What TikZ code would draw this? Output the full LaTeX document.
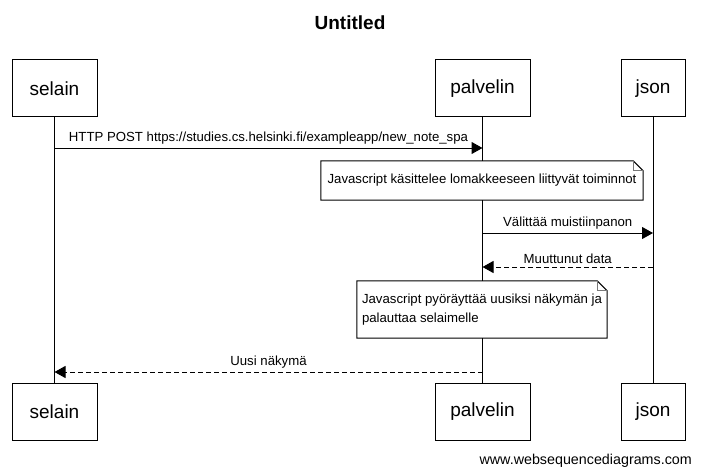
\documentclass[tikz,border=0pt]{standalone}
\usepackage{fontspec}
\setmainfont{Liberation Sans}
\usetikzlibrary{calc,arrows.meta}
\definecolor{ink}{RGB}{0,0,0}
\definecolor{fold}{RGB}{120,120,120}
\tikzset{
  sqtitle/.style={font=\fontsize{19}{22}\selectfont\bfseries},
  sqactor/.style={draw=ink,line width=1pt,minimum height=57,inner sep=0pt,font=\fontsize{19}{22}\selectfont},
  sqlife/.style={ink,line width=1pt},
  sqmsg/.style={ink,line width=1pt,-{Triangle[length=11pt,width=12pt]}},
  sqreply/.style={sqmsg,dash pattern=on 5pt off 3pt},
  sqlabel/.style={font=\fontsize{13.2}{15}\selectfont,above=2pt,inner sep=1pt},
  sqnote/.style={fill=white,inner sep=0pt,font=\fontsize{13.2}{19}\selectfont,align=left},
  sqfold/.style={ink,line width=1pt},
  sqfoot/.style={font=\fontsize{14.3}{16}\selectfont,inner sep=0pt},
}
\begin{document}
\begin{tikzpicture}[x=1pt,y=-1pt]
  \useasboundingbox (0,0) rectangle (701,476);
  \node[sqtitle] (title) at (350,23) {Untitled};
  \node[sqactor,minimum width=85] (selT) at (54.5,88.5) {selain};
  \node[sqactor,minimum width=95] (palT) at (482.5,88.5) {palvelin};
  \node[sqactor,minimum width=64] (jsT) at (653,88.5) {json};
  \node[sqactor,minimum width=85] (selB) at (54.5,411.5) {selain};
  \node[sqactor,minimum width=95] (palB) at (482.5,411.5) {palvelin};
  \node[sqactor,minimum width=64] (jsB) at (653,411.5) {json};
  \draw[sqlife] (selT) -- (selB);
  \draw[sqlife] (palT) -- (palB);
  \draw[sqlife] (jsT) -- (jsB);
  \coordinate (m1a) at (selT.south |- 0,148);
  \coordinate (m1b) at (palT.south |- 0,148);
  \draw[sqmsg] (m1a) -- node[sqlabel] (l1) {HTTP POST https://studies.cs.helsinki.fi/exampleapp/new\_note\_spa} (m1b);
  \node[sqnote,minimum width=322,minimum height=39] (n1) at (482,180.5) {Javascript käsittelee lomakkeeseen liittyvät toiminnot};
  \draw[sqfold] (n1.north west) -- ($(n1.north east)+(-10,0)$) -- ($(n1.north east)+(0,10)$) -- (n1.south east) -- (n1.south west) -- cycle;
  \draw[fold,line width=0.8pt] ($(n1.north east)+(-10,0)$) -- ($(n1.north east)+(-10,10)$) -- ($(n1.north east)+(0,10)$);
  \coordinate (m2a) at (palT.south |- 0,233);
  \coordinate (m2b) at (jsT.south |- 0,233);
  \draw[sqmsg] (m2a) -- node[sqlabel] (l2) {Välittää muistiinpanon} (m2b);
  \coordinate (m3a) at (jsT.south |- 0,267);
  \coordinate (m3b) at (palT.south |- 0,267);
  \draw[sqreply] (m3a) -- node[sqlabel] (l3) {Muuttunut data} (m3b);
  \node[sqnote,minimum width=250,minimum height=57] (n2) at (482,309.5) {Javascript pyöräyttää uusiksi näkymän ja\\palauttaa selaimelle};
  \draw[sqfold] (n2.north west) -- ($(n2.north east)+(-10,0)$) -- ($(n2.north east)+(0,10)$) -- (n2.south east) -- (n2.south west) -- cycle;
  \draw[fold,line width=0.8pt] ($(n2.north east)+(-10,0)$) -- ($(n2.north east)+(-10,10)$) -- ($(n2.north east)+(0,10)$);
  \coordinate (m4a) at (palT.south |- 0,372);
  \coordinate (m4b) at (selT.south |- 0,372);
  \draw[sqreply] (m4a) -- node[sqlabel] (l4) {Uusi näkymä} (m4b);
  \node[sqfoot,anchor=east] (foot) at (692,461) {www.websequencediagrams.com};
\end{tikzpicture}
\end{document}
